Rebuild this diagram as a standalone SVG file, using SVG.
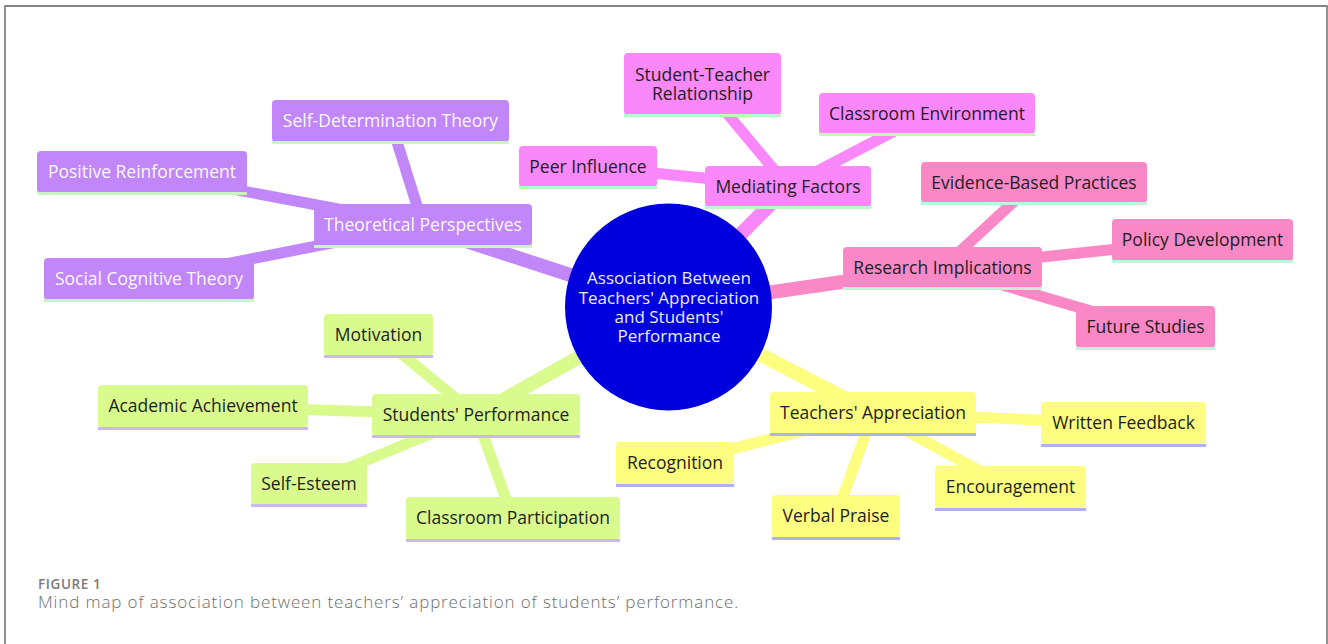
<svg xmlns="http://www.w3.org/2000/svg" width="1328" height="644" viewBox="0 0 1328 644">
  <style>
    .lbl { font-family: "Open Sans", "Liberation Sans", sans-serif; font-size: 17.5px; text-anchor: middle; fill: #1e1e1e; }
    .lbl.light { fill: #f8f8f8; }
    .root-lbl { font-family: "Open Sans", "Liberation Sans", sans-serif; font-size: 17px; text-anchor: middle; fill: #ececf2; }
    .e1 { stroke-width: 14; stroke-linecap: butt; fill: none; }
    .e2 { stroke-width: 11; stroke-linecap: butt; fill: none; }
    .s-purple { fill: #c186f8; }
    .s-magenta { fill: #fa88fa; }
    .s-pink { fill: #fa88c6; }
    .s-green { fill: #d9fb8e; }
    .s-yellow { fill: #fdfd80; }
    .u-purple { fill: #c9f5c2; }
    .u-magenta { fill: #c0f5c4; }
    .u-pink { fill: #c0f5dc; }
    .u-green { fill: #cab8f2; }
    .u-yellow { fill: #b0b0f2; }
    .caption-head { font-family: "Open Sans", "Liberation Sans", sans-serif; font-size: 13.5px; font-weight: 600; letter-spacing: 0.6px; fill: #7a7a7a; }
    .caption { font-family: "Open Sans", "Liberation Sans", sans-serif; font-size: 17px; font-weight: 300; letter-spacing: 0.88px; fill: #6e6e6e; }
  </style>

  <rect x="0" y="0" width="1328" height="644" fill="#ffffff"/>
  <!-- figure frame: open at the bottom -->
  <path d="M5,644 V6 H1327 V644" fill="none" stroke="#858585" stroke-width="1.8"/>

  <!-- connectors, drawn centre to centre underneath the nodes -->
  <g id="connectors">
    <!-- root to branches -->
    <line class="e1" stroke="#c186f8" x1="668.5" y1="307" x2="423" y2="227"/>
    <line class="e1" stroke="#fa88fa" x1="668.5" y1="307" x2="788" y2="186.5"/>
    <line class="e1" stroke="#fa88c6" x1="668.5" y1="307" x2="942.5" y2="267.5"/>
    <line class="e1" stroke="#d9fb8e" x1="668.5" y1="307" x2="476" y2="415"/>
    <line class="e1" stroke="#fdfd80" x1="668.5" y1="307" x2="873" y2="413"/>
    <!-- Theoretical Perspectives -->
    <line class="e2" stroke="#c186f8" x1="423" y1="225" x2="390.5" y2="121"/>
    <line class="e2" stroke="#c186f8" x1="423" y1="225" x2="142" y2="172"/>
    <line class="e2" stroke="#c186f8" x1="423" y1="225" x2="149" y2="279"/>
    <!-- Mediating Factors -->
    <line class="e2" stroke="#fa88fa" x1="788" y1="186.5" x2="702.5" y2="84"/>
    <line class="e2" stroke="#fa88fa" x1="788" y1="186.5" x2="927" y2="114"/>
    <line class="e2" stroke="#fa88fa" x1="788" y1="186.5" x2="588" y2="166.5"/>
    <!-- Research Implications -->
    <line class="e2" stroke="#fa88c6" x1="942.5" y1="267.5" x2="1034" y2="183"/>
    <line class="e2" stroke="#fa88c6" x1="942.5" y1="267.5" x2="1202.5" y2="240"/>
    <line class="e2" stroke="#fa88c6" x1="942.5" y1="267.5" x2="1145.5" y2="327"/>
    <!-- Students' Performance -->
    <line class="e2" stroke="#d9fb8e" x1="476" y1="415" x2="378.5" y2="335"/>
    <line class="e2" stroke="#d9fb8e" x1="476" y1="415" x2="203" y2="406.5"/>
    <line class="e2" stroke="#d9fb8e" x1="476" y1="415" x2="309" y2="484"/>
    <line class="e2" stroke="#d9fb8e" x1="476" y1="415" x2="513" y2="518.5"/>
    <!-- Teachers' Appreciation -->
    <line class="e2" stroke="#fdfd80" x1="873" y1="413" x2="1123.5" y2="423.5"/>
    <line class="e2" stroke="#fdfd80" x1="873" y1="413" x2="675" y2="463.5"/>
    <line class="e2" stroke="#fdfd80" x1="873" y1="413" x2="1010.5" y2="487.5"/>
    <line class="e2" stroke="#fdfd80" x1="873" y1="413" x2="836" y2="516.5"/>
  </g>

  <!-- central topic -->
  <g id="root">
    <circle cx="668.5" cy="307" r="103.5" fill="#0000de"/>
    <text class="root-lbl" x="669" y="284">Association Between</text>
    <text class="root-lbl" x="669" y="303.5">Teachers' Appreciation</text>
    <text class="root-lbl" x="669" y="323">and Students'</text>
    <text class="root-lbl" x="669" y="342">Performance</text>
  </g>

  <!-- Theoretical Perspectives branch -->
  <g id="theoretical-perspectives">
    <rect class="s-purple" x="314" y="204" width="218" height="42" rx="4"/>
    <rect class="u-purple" x="314" y="245" width="218" height="3"/>
    <text class="lbl light" x="423" y="231">Theoretical Perspectives</text>
  </g>
  <g id="self-determination-theory">
    <rect class="s-purple" x="272" y="100" width="237" height="42" rx="4"/>
    <rect class="u-purple" x="272" y="141" width="237" height="3"/>
    <text class="lbl light" x="390.5" y="127">Self-Determination Theory</text>
  </g>
  <g id="positive-reinforcement">
    <rect class="s-purple" x="37" y="151" width="210" height="42" rx="4"/>
    <rect class="u-purple" x="37" y="192" width="210" height="3"/>
    <text class="lbl light" x="142" y="178">Positive Reinforcement</text>
  </g>
  <g id="social-cognitive-theory">
    <rect class="s-purple" x="44" y="258" width="210" height="42" rx="4"/>
    <rect class="u-purple" x="44" y="299" width="210" height="3"/>
    <text class="lbl light" x="149" y="285">Social Cognitive Theory</text>
  </g>

  <!-- Mediating Factors branch -->
  <g id="mediating-factors">
    <rect class="s-magenta" x="705" y="166" width="166" height="41" rx="4"/>
    <rect class="u-magenta" x="705" y="206" width="166" height="3"/>
    <text class="lbl" x="788" y="193">Mediating Factors</text>
  </g>
  <g id="student-teacher-relationship">
    <rect class="s-magenta" x="624" y="53" width="157" height="62" rx="4"/>
    <rect class="u-magenta" x="624" y="114" width="157" height="3"/>
    <text class="lbl" x="702.5" y="80.5">Student-Teacher</text>
    <text class="lbl" x="702.5" y="99.5">Relationship</text>
  </g>
  <g id="classroom-environment">
    <rect class="s-magenta" x="819" y="93" width="216" height="41" rx="4"/>
    <rect class="u-magenta" x="819" y="133" width="216" height="3"/>
    <text class="lbl" x="927" y="120">Classroom Environment</text>
  </g>
  <g id="peer-influence">
    <rect class="s-magenta" x="519" y="146" width="138" height="41" rx="4"/>
    <rect class="u-magenta" x="519" y="186" width="138" height="3"/>
    <text class="lbl" x="588" y="173">Peer Influence</text>
  </g>

  <!-- Research Implications branch -->
  <g id="research-implications">
    <rect class="s-pink" x="843" y="247" width="199" height="41" rx="4"/>
    <rect class="u-pink" x="843" y="287" width="199" height="3"/>
    <text class="lbl" x="942.5" y="274">Research Implications</text>
  </g>
  <g id="evidence-based-practices">
    <rect class="s-pink" x="921" y="162" width="226" height="41" rx="4"/>
    <rect class="u-pink" x="921" y="202" width="226" height="3"/>
    <text class="lbl" x="1034" y="189">Evidence-Based Practices</text>
  </g>
  <g id="policy-development">
    <rect class="s-pink" x="1112" y="219" width="181" height="42" rx="4"/>
    <rect class="u-pink" x="1112" y="260" width="181" height="3"/>
    <text class="lbl" x="1202.5" y="246">Policy Development</text>
  </g>
  <g id="future-studies">
    <rect class="s-pink" x="1076" y="306" width="139" height="42" rx="4"/>
    <rect class="u-pink" x="1076" y="347" width="139" height="3"/>
    <text class="lbl" x="1145.5" y="333">Future Studies</text>
  </g>

  <!-- Students' Performance branch -->
  <g id="students-performance">
    <rect class="s-green" x="372" y="394" width="208" height="42" rx="4"/>
    <rect class="u-green" x="372" y="435" width="208" height="3"/>
    <text class="lbl" x="476" y="421">Students' Performance</text>
  </g>
  <g id="motivation">
    <rect class="s-green" x="324" y="314" width="109" height="42" rx="4"/>
    <rect class="u-green" x="324" y="355" width="109" height="3"/>
    <text class="lbl" x="378.5" y="341">Motivation</text>
  </g>
  <g id="academic-achievement">
    <rect class="s-green" x="98" y="385" width="210" height="43" rx="4"/>
    <rect class="u-green" x="98" y="427" width="210" height="3"/>
    <text class="lbl" x="203" y="412">Academic Achievement</text>
  </g>
  <g id="self-esteem">
    <rect class="s-green" x="251" y="463" width="116" height="42" rx="4"/>
    <rect class="u-green" x="251" y="504" width="116" height="3"/>
    <text class="lbl" x="309" y="490">Self-Esteem</text>
  </g>
  <g id="classroom-participation">
    <rect class="s-green" x="406" y="497" width="214" height="43" rx="4"/>
    <rect class="u-green" x="406" y="539" width="214" height="3"/>
    <text class="lbl" x="513" y="524">Classroom Participation</text>
  </g>

  <!-- Teachers' Appreciation branch -->
  <g id="teachers-appreciation">
    <rect class="s-yellow" x="770" y="392" width="206" height="42" rx="4"/>
    <rect class="u-yellow" x="770" y="433" width="206" height="3"/>
    <text class="lbl" x="873" y="419">Teachers' Appreciation</text>
  </g>
  <g id="written-feedback">
    <rect class="s-yellow" x="1041" y="402" width="165" height="43" rx="4"/>
    <rect class="u-yellow" x="1041" y="444" width="165" height="3"/>
    <text class="lbl" x="1123.5" y="429">Written Feedback</text>
  </g>
  <g id="recognition">
    <rect class="s-yellow" x="616" y="442" width="118" height="43" rx="4"/>
    <rect class="u-yellow" x="616" y="484" width="118" height="3"/>
    <text class="lbl" x="675" y="469">Recognition</text>
  </g>
  <g id="encouragement">
    <rect class="s-yellow" x="935" y="466" width="151" height="43" rx="4"/>
    <rect class="u-yellow" x="935" y="508" width="151" height="3"/>
    <text class="lbl" x="1010.5" y="493">Encouragement</text>
  </g>
  <g id="verbal-praise">
    <rect class="s-yellow" x="772" y="495" width="128" height="43" rx="4"/>
    <rect class="u-yellow" x="772" y="537" width="128" height="3"/>
    <text class="lbl" x="836" y="522">Verbal Praise</text>
  </g>

  <!-- caption -->
  <g id="caption">
    <text class="caption-head" x="38" y="588.5">FIGURE 1</text>
    <text class="caption" x="38" y="607.5">Mind map of association between teachers’ appreciation of students’ performance.</text>
  </g>
</svg>
